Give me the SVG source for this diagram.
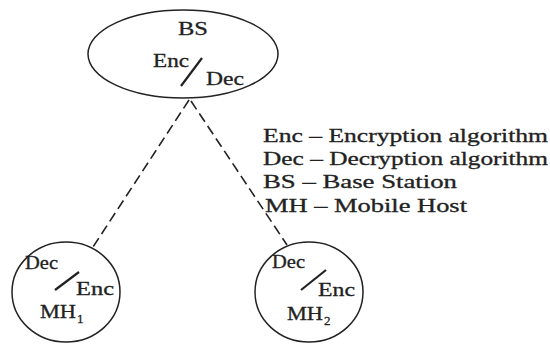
<svg xmlns="http://www.w3.org/2000/svg" width="550" height="347" viewBox="0 0 550 347">
<style>
text{font-family:"Liberation Serif","Times New Roman",serif;fill:#222;font-size:19px;stroke:#222;stroke-width:0.3}
.sub{font-size:13px}
.shape{fill:none;stroke:#222;stroke-width:1.5}
.slash{stroke:#222;stroke-width:2.2}
.conn{stroke:#222;stroke-width:1.6;stroke-dasharray:10 5;fill:none}
</style>
<rect width="550" height="347" fill="#fff"/>
<g id="connectors">
<line class="conn" x1="189" y1="100" x2="93" y2="247"/>
<line class="conn" x1="191" y1="101" x2="287" y2="245"/>
</g>
<g id="BS">
<ellipse class="shape" cx="183" cy="54" rx="95" ry="44"/>
<text x="178" y="35" textLength="30" lengthAdjust="spacingAndGlyphs">BS</text>
<text x="153" y="67" textLength="36" lengthAdjust="spacingAndGlyphs">Enc</text>
<line class="slash" x1="181" y1="86" x2="202" y2="58"/>
<text x="206" y="85" textLength="38" lengthAdjust="spacingAndGlyphs">Dec</text>
</g>
<g id="MH1">
<ellipse class="shape" cx="66" cy="292" rx="54" ry="50"/>
<text x="25" y="269" textLength="33" lengthAdjust="spacingAndGlyphs">Dec</text>
<line class="slash" x1="55" y1="290" x2="79" y2="272"/>
<text x="76" y="295" textLength="38" lengthAdjust="spacingAndGlyphs">Enc</text>
<text x="40" y="318" textLength="36" lengthAdjust="spacingAndGlyphs">MH</text>
<text class="sub" x="77" y="323">1</text>
</g>
<g id="MH2">
<ellipse class="shape" cx="309" cy="292" rx="54" ry="50"/>
<text x="272" y="268" textLength="33" lengthAdjust="spacingAndGlyphs">Dec</text>
<line class="slash" x1="301" y1="290" x2="326" y2="270"/>
<text x="318" y="296" textLength="37" lengthAdjust="spacingAndGlyphs">Enc</text>
<text x="287" y="320" textLength="36" lengthAdjust="spacingAndGlyphs">MH</text>
<text class="sub" x="324" y="325">2</text>
</g>
<g id="legend">
<text x="263" y="142" textLength="285" lengthAdjust="spacingAndGlyphs">Enc – Encryption algorithm</text>
<text x="263" y="165" textLength="285" lengthAdjust="spacingAndGlyphs">Dec – Decryption algorithm</text>
<text x="263" y="188" textLength="194" lengthAdjust="spacingAndGlyphs">BS – Base Station</text>
<text x="265" y="212" textLength="202" lengthAdjust="spacingAndGlyphs">MH – Mobile Host</text>
</g>
</svg>
